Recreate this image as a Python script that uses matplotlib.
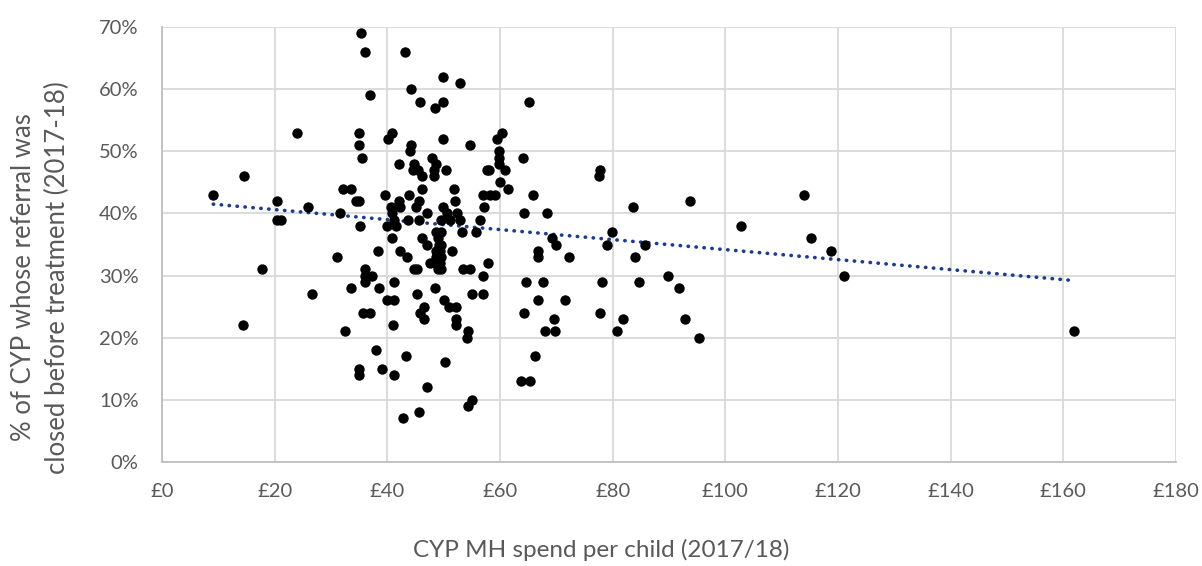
import matplotlib
matplotlib.use("Agg")
import matplotlib.pyplot as plt
from matplotlib.ticker import FuncFormatter
import numpy as np

# CYP MH spend per child (£) and % of referrals closed before treatment
spend = [
    9.1, 14.6, 24.0, 20.4, 25.9, 20.4, 21.1, 17.8, 26.7, 14.4,
    114.0, 115.2, 118.8, 121.1, 161.8,
    77.8, 77.6, 83.6, 93.8, 102.7, 79.8, 79.0, 85.7, 84.0, 78.1,
    84.6, 89.8, 91.7, 77.7, 81.8, 80.8, 92.9, 95.4,
    49.9, 52.9, 49.8, 65.1, 49.8, 54.7, 60.3, 59.5, 59.9, 59.9,
    59.9, 64.0, 60.9, 57.6, 58.1, 50.4, 60.0, 61.5, 51.9, 56.9,
    58.2, 59.1, 65.9, 52.0, 57.1, 49.9, 50.5, 52.3, 64.3, 68.4,
    56.4, 49.6, 51.1, 52.9, 53.2, 55.7, 49.6, 69.3, 70.0, 66.8,
    66.7, 72.2, 51.4, 49.6, 49.6, 49.6, 53.5, 54.7, 57.8, 57.0,
    64.6, 67.6, 55.1, 56.9, 66.8, 71.6, 50.1, 51.0, 52.1, 64.2,
    52.1, 52.1, 69.6, 68.0, 69.8, 54.4, 54.1, 66.2, 50.3, 63.7,
    65.4, 55.1, 54.3,
    35.4, 36.1, 43.2, 37.0, 44.2, 45.8, 48.4, 35.0, 35.0, 35.5,
    40.8, 40.2, 44.2, 44.0, 42.0, 44.8, 44.5, 45.5, 46.2, 48.0,
    48.6, 48.2, 48.3, 32.1, 33.6, 34.5, 35.0, 39.6, 46.1, 43.8,
    42.0, 45.7, 40.7, 42.2, 45.1, 47.1, 31.6, 40.9, 41.2, 39.9,
    41.5, 35.2, 43.7, 45.6, 40.9, 46.2, 47.0, 48.7, 48.9, 49.2,
    48.6, 49.4, 48.7, 48.5, 49.3, 49.0, 38.4, 31.1, 42.2, 43.5,
    44.8, 45.3, 47.6, 36.0, 36.0, 37.2, 36.0, 33.5, 38.5, 41.2,
    39.9, 41.2, 45.2, 48.4, 35.6, 36.9, 41.0, 46.5, 45.8, 46.5,
    32.4, 37.9, 43.3, 34.9, 34.9, 39.0, 41.2, 47.1, 45.6, 42.8,
]
closed_pct = [
    43, 46, 53, 42, 41, 39, 39, 31, 27, 22,
    43, 36, 34, 30, 21,
    47, 46, 41, 42, 38, 37, 35, 35, 33, 29,
    29, 30, 28, 24, 23, 21, 23, 20,
    62, 61, 58, 58, 52, 51, 53, 52, 50, 49,
    48, 49, 47, 47, 47, 47, 45, 44, 44, 43,
    43, 43, 43, 42, 41, 41, 40, 40, 40, 40,
    39, 39, 39, 39, 37, 37, 37, 36, 35, 34,
    33, 33, 34, 35, 33, 31, 31, 31, 32, 30,
    29, 29, 27, 27, 26, 26, 26, 25, 25, 24,
    23, 22, 23, 21, 21, 21, 20, 17, 16, 13,
    13, 10, 9,
    69, 66, 66, 59, 60, 58, 57, 53, 51, 49,
    53, 52, 51, 50, 48, 48, 47, 47, 46, 49,
    48, 47, 46, 44, 44, 42, 42, 43, 44, 43,
    42, 42, 41, 41, 41, 40, 40, 40, 39, 38,
    38, 38, 39, 39, 36, 36, 35, 37, 36, 35,
    34, 34, 33, 32, 32, 31, 34, 33, 34, 33,
    31, 31, 32, 31, 30, 30, 29, 28, 28, 29,
    26, 26, 27, 28, 24, 24, 22, 25, 24, 23,
    21, 18, 17, 15, 14, 15, 14, 12, 8, 7,
]

# linear trendline as shown on the chart (ends)
trend_spend = [9.1, 161.8]
trend_pct = [41.5, 29.2]

x_ticks = list(range(0, 181, 20))
y_ticks = list(range(0, 71, 10))

text_grey = "#595959"
plt.rcParams["font.family"] = ["Lato", "DejaVu Sans"]

fig = plt.figure(figsize=(12.02, 5.66), dpi=100)
ax = fig.add_axes([0.1348, 0.184, 0.8436, 0.768])

ax.scatter(spend, np.array(closed_pct) / 100, s=56, color="black",
           zorder=3, linewidths=0)
ax.plot(trend_spend, np.array(trend_pct) / 100, color="#1f3b8f", lw=2.6,
        linestyle=(0, (0.1, 2.1)), dash_capstyle="round", zorder=2)

ax.set_xlim(0, 180)
ax.set_ylim(0, 0.70)
ax.set_xticks(x_ticks)
ax.set_yticks([v / 100 for v in y_ticks])
ax.xaxis.set_major_formatter(FuncFormatter(lambda v, p: f"£{v:.0f}"))
ax.yaxis.set_major_formatter(FuncFormatter(lambda v, p: f"{v * 100:.0f}%"))

ax.grid(True, color="#d9d9d9", lw=1.3, zorder=0)
ax.set_axisbelow(True)
for side in ("top", "right"):
    ax.spines[side].set_visible(False)
for side in ("left", "bottom"):
    ax.spines[side].set_color("#bfbfbf")
    ax.spines[side].set_linewidth(1.3)
ax.tick_params(length=0, labelsize=14.5, colors=text_grey)
ax.tick_params(axis="x", pad=15)
ax.tick_params(axis="y", pad=17)

fig.text(0.5, 0.028, "CYP MH spend per child (2017/18)", ha="center",
         va="center", fontsize=17.5, color=text_grey)
fig.text(0.034, 0.51, "% of CYP whose referral was\nclosed before treatment (2017-18)",
         ha="center", va="center", rotation=90, fontsize=18.5,
         color=text_grey, linespacing=1.45)

fig.savefig("out.png", dpi=100)
